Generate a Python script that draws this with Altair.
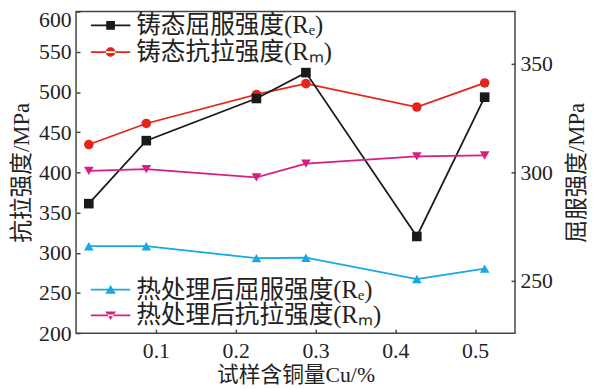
import altair as alt
import pandas as pd

# Cu content (%) of the samples
cu = [0.016, 0.088, 0.226, 0.288, 0.427, 0.512]
# yield strengths (right axis, MPa)
cast_re = [285.6, 314.6, 334.0, 345.9, 270.5, 334.6]
ht_re = [266.0, 266.0, 260.5, 260.7, 250.9, 255.7]
# tensile strengths (left axis, MPa)
cast_rm = [434.6, 460.8, 496.9, 510.4, 481.3, 511.2]
ht_rm = [401.8, 404.0, 393.7, 410.9, 419.9, 421.0]

names = ["铸态屈服强度(Rₑ)", "铸态抗拉强度(Rₘ)", "热处理后屈服强度(Rₑ)", "热处理后抗拉强度(Rₘ)"]
colors = ["#1a1a1a", "#e3261c", "#16aae2", "#d81e84"]
shapes = ["square", "circle", "triangle-up", "triangle-down"]

left_ticks = [200, 250, 300, 350, 400, 450, 500, 550, 600]
right_ticks = [250, 300, 350]
x_ticks = [0.1, 0.2, 0.3, 0.4, 0.5]

FONT = "Liberation Serif, Noto Sans CJK SC"
TXT = "#222222"
AX = "#444444"

LINE = "M-1,-0.045H1V0.045H-1Z"
marker_paths = {
    "square": "M-0.22,-0.22H0.22V0.22H-0.22Z",
    "circle": "M-0.24,0A0.24,0.24 0 1,0 0.24,0A0.24,0.24 0 1,0 -0.24,0Z",
    "triangle-up": "M0,-0.24L0.27,0.2L-0.27,0.2Z",
    "triangle-down": "M0,0.24L0.27,-0.2L-0.27,-0.2Z",
}
legend_pos = [(15, -6), (15, 21), (15, 262), (15, 288)]

x_enc = alt.X(
    "cu:Q",
    scale=alt.Scale(domain=[0, 0.55], nice=False, zero=False),
    axis=alt.Axis(
        values=x_ticks, format=".1f", domain=False, grid=False,
        tickSize=4, offset=-4, tickColor=AX, tickWidth=1.5,
        labelFont=FONT, labelFontSize=22, labelColor=TXT, labelPadding=8,
        title="试样含铜量Cu/%", titleFont=FONT, titleFontSize=22,
        titleFontWeight="normal", titleColor=TXT, titlePadding=3,
    ),
)

left_axis = alt.Axis(
    orient="left", values=left_ticks, domain=False, grid=False,
    tickSize=4, offset=-4, tickColor=AX, tickWidth=1.5,
    labelFont=FONT, labelFontSize=22, labelColor=TXT, labelPadding=5,
    labelOffset={"condition": {"test": "datum.value == 600", "value": 8}, "value": 0},
    title="抗拉强度/MPa", titleFont=FONT, titleFontSize=23,
    titleFontWeight="normal", titleColor=TXT, titlePadding=5,
)
right_axis = alt.Axis(
    orient="right", values=right_ticks, domain=False, grid=False,
    tickSize=4, offset=-4, tickColor=AX, tickWidth=1.5,
    labelFont=FONT, labelFontSize=22, labelColor=TXT, labelPadding=5,
    title="屈服强度/MPa", titleFont=FONT, titleFontSize=23, titleAngle=270,
    titleBaseline="top", titleFontWeight="normal", titleColor=TXT,
    titlePadding=13,
)


def series_layer(i, vals, domain, axis):
    df = pd.DataFrame({"cu": cu, "v": vals, "s": names[i]})
    y_enc = alt.Y("v:Q", scale=alt.Scale(domain=domain, nice=False, zero=False),
                  axis=axis)
    line = alt.Chart(df).mark_line(color=colors[i], strokeWidth=1.8).encode(
        x=x_enc, y=y_enc)
    lx, ly = legend_pos[i]
    pts = alt.Chart(df).mark_point(filled=True, shape=shapes[i], size=95,
                                   opacity=1).encode(
        x=x_enc, y=y_enc,
        color=alt.Color(
            "s:N",
            scale=alt.Scale(domain=[names[i]], range=[colors[i]]),
            legend=alt.Legend(
                orient="none", legendX=lx, legendY=ly, title=None,
                symbolType=LINE + marker_paths[shapes[i]], symbolSize=1600,
                symbolStrokeWidth=0, symbolOpacity=1, padding=0,
                labelFont=FONT, labelFontSize=25, labelColor=TXT,
                labelOffset=6, labelLimit=400,
            ),
        ),
    )
    return alt.layer(line, pts)


L_DOM = [200, 600]
R_DOM = [226.0, 374.0]

chart = alt.layer(
    series_layer(1, cast_rm, L_DOM, left_axis),
    series_layer(0, cast_re, R_DOM, right_axis),
    series_layer(2, ht_re, R_DOM, None),
    series_layer(3, ht_rm, L_DOM, None),
).resolve_scale(y="independent", color="independent").properties(
    width=445, height=326,
    autosize=alt.AutoSizeParams(type="none"),
    padding={"left": 69, "top": 1, "right": 74, "bottom": 53},
    background="white",
).configure_view(stroke=AX, strokeWidth=1.5)

chart.save("out.html", embed_options={"renderer": "svg", "actions": False})
